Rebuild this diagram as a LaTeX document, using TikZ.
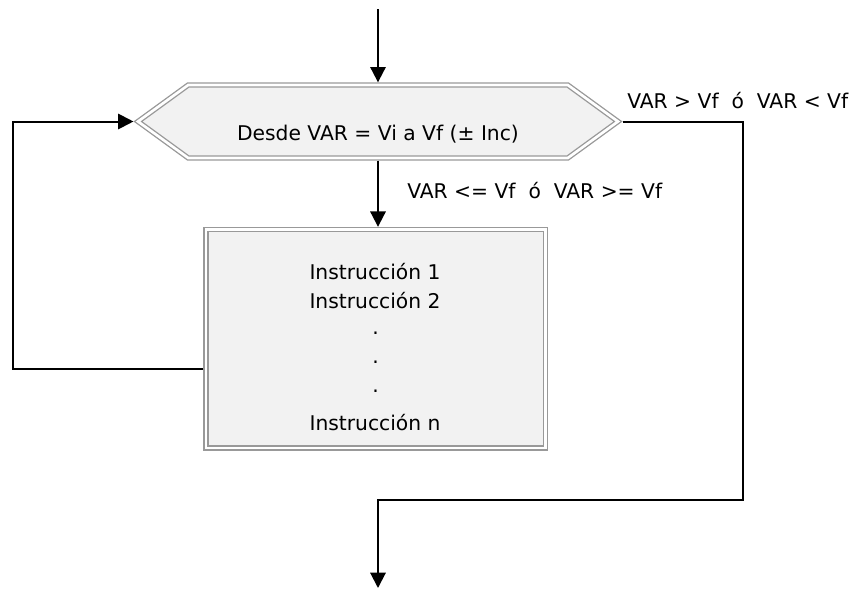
\documentclass[tikz,border=0pt]{standalone}
\usepackage{fontspec}
\setmainfont{DejaVu Sans}
\usetikzlibrary{shapes.symbols,arrows.meta}
\definecolor{bordergray}{HTML}{999999}
\definecolor{shapefill}{HTML}{F2F2F2}
\begin{document}
\begin{tikzpicture}[x=0.75pt,y=-0.75pt,
  dbl/.style={draw=bordergray, line width=1pt, double=white, double distance=2pt, fill=shapefill, outer sep=2pt, inner sep=0pt},
  conn/.style={draw=black, line width=1.5pt},
  arr/.style={conn, -{Triangle[width=11.5pt,length=11.5pt]}},
  txt/.style={font=\fontsize{15.2pt}{18pt}\selectfont, inner sep=0pt}]
\useasboundingbox (0,0) rectangle (860,589);
\coordinate (start) at (378,9);
\coordinate (end) at (378,588);
\node[dbl, signal, signal to=west and east, signal pointer angle=72, minimum width=360pt, minimum height=54.75pt] (hex) at (378,121.5) {};
\node[dbl, rectangle, minimum width=254.6pt, minimum height=163.9pt] (box) at (375.75,338.75) {};
\node[txt, anchor=base] (hextext) at (378,140) {Desde VAR = Vi a Vf (± Inc)};
\node[txt, anchor=base west] (lblout) at (627,108) {VAR > Vf\ \ ó\ \ VAR < Vf};
\node[txt, anchor=base west] (lblin) at (407,198) {VAR <= Vf\ \ ó\ \ VAR >= Vf};
\node[txt, anchor=base] (i1) at (375,279) {Instrucción 1};
\node[txt, anchor=base] (i2) at (375,308) {Instrucción 2};
\node[txt, anchor=base] (d1) at (375.5,334) {.};
\node[txt, anchor=base] (d2) at (375.5,363.5) {.};
\node[txt, anchor=base] (d3) at (375.5,392) {.};
\node[txt, anchor=base] (in) at (375,430) {Instrucción n};
\draw[arr] (start) -- (hex.north);
\draw[arr] (hex.south) -- (hex.south |- box.north);
\draw[arr] (box.west |- 0,369) -| (13,121.5) -- (hex.west);
\draw[arr] (hex.east) -- (743,121.5) -- (743,500) -- (378,500) -- (end);
\end{tikzpicture}
\end{document}
